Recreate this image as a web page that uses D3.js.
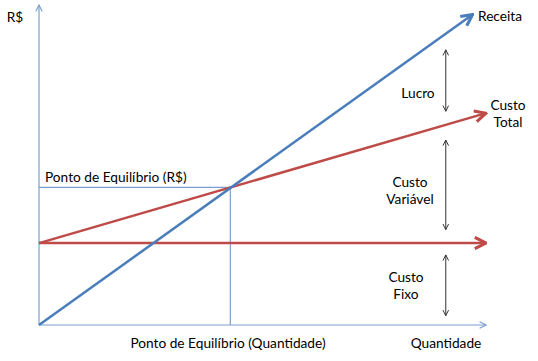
<!DOCTYPE html>
<html lang="pt">
<head>
  <meta charset="utf-8">
  <title>Ponto de Equilibrio</title>
  <script src="https://d3js.org/d3.v7.min.js"></script>
  <style>
    body { margin: 0; background: #fff; }
    text { font-family: Lato, "Open Sans", sans-serif; font-size: 13.7px; fill: #000; }
  </style>
</head>
<body>
<script>
// quantity on x, value (R$) on y, both 0..100
var receita = [[0, 0], [97, 97]];
var custoTotal = [[0, 25.6], [100, 66.2]];
var custoFixo = [[0, 25.6], [100, 25.6]];
var equilibrio = [42.8, 43];   // [quantidade, R$]

// double arrows: [x, yFrom, yTo]
var faixas = [
  [91, 86, 66.8],   // Lucro
  [91, 57.8, 29.8], // Custo Variavel
  [91, 21.9, 2.9]   // Custo Fixo
];

var width = 538, height = 361;

var x = d3.scaleLinear().domain([0, 100]).range([39, 486]);
var y = d3.scaleLinear().domain([0, 100]).range([325, 5]);

var svg = d3.select("body").append("svg")
  .attr("width", width)
  .attr("height", height);

var defs = svg.append("defs");
function marker(id, color, size) {
  defs.append("marker")
    .attr("id", id)
    .attr("viewBox", "0 0 10 10")
    .attr("refX", 9)
    .attr("refY", 5)
    .attr("markerWidth", size)
    .attr("markerHeight", size)
    .attr("orient", "auto-start-reverse")
    .attr("markerUnits", "userSpaceOnUse")
    .append("path")
    .attr("d", "M1,1 L9,5 L1,9")
    .attr("fill", "none")
    .attr("stroke", color)
    .attr("stroke-width", id.indexOf("big") >= 0 ? 2.2 : 1.4);
}
marker("ax", "#7ba0cd", 8);
marker("bigBlue", "#4a7ebb", 14);
marker("bigRed", "#be4b48", 14);
marker("gray", "#333", 7);

var line = d3.line().x(function(d) { return x(d[0]); }).y(function(d) { return y(d[1]); });

// break-even guide lines
svg.append("path")
  .attr("d", line([[0, equilibrio[1]], [equilibrio[0], equilibrio[1]], [equilibrio[0], 0]]))
  .attr("fill", "none")
  .attr("stroke", "#7ba0cd")
  .attr("stroke-width", 1.2);

// axes
svg.append("line")
  .attr("x1", x(0)).attr("y1", y(0))
  .attr("x2", x(0)).attr("y2", y(100))
  .attr("stroke", "#7ba0cd").attr("stroke-width", 1.2)
  .attr("marker-end", "url(#ax)");
svg.append("line")
  .attr("x1", x(0)).attr("y1", y(0))
  .attr("x2", x(100)).attr("y2", y(0))
  .attr("stroke", "#7ba0cd").attr("stroke-width", 1.2)
  .attr("marker-end", "url(#ax)");

// main lines
svg.append("path").attr("d", line(custoFixo))
  .attr("fill", "none").attr("stroke", "#be4b48").attr("stroke-width", 2.5)
  .attr("marker-end", "url(#bigRed)");
svg.append("path").attr("d", line(custoTotal))
  .attr("fill", "none").attr("stroke", "#be4b48").attr("stroke-width", 2.5)
  .attr("marker-end", "url(#bigRed)");
svg.append("path").attr("d", line(receita))
  .attr("fill", "none").attr("stroke", "#4a7ebb").attr("stroke-width", 2.5)
  .attr("marker-end", "url(#bigBlue)");

// double arrows
svg.selectAll(".faixa")
  .data(faixas)
  .enter()
  .append("line")
  .attr("class", "faixa")
  .attr("x1", function(d) { return x(d[0]); })
  .attr("x2", function(d) { return x(d[0]); })
  .attr("y1", function(d) { return y(d[1]); })
  .attr("y2", function(d) { return y(d[2]); })
  .attr("stroke", "#333")
  .attr("stroke-width", 1)
  .attr("marker-start", "url(#gray)")
  .attr("marker-end", "url(#gray)");

// labels
var labels = [
  ["R$", 15, 17, "middle"],
  ["Receita", 478, 16, "start"],
  ["Lucro", 418, 93, "middle"],
  ["Custo", 508, 105, "middle"],
  ["Total", 508, 122, "middle"],
  ["Custo", 410, 182, "middle"],
  ["Variável", 410, 199, "middle"],
  ["Custo", 406, 277, "middle"],
  ["Fixo", 406, 294, "middle"],
  ["Quantidade", 446, 343, "middle"],
  ["Ponto de Equilíbrio (R$)", 45, 177, "start"],
  ["Ponto de Equilíbrio (Quantidade)", 228, 343, "middle"]
];
svg.selectAll(".lbl")
  .data(labels)
  .enter()
  .append("text")
  .attr("class", "lbl")
  .attr("x", function(d) { return d[1]; })
  .attr("y", function(d) { return d[2]; })
  .attr("dy", "0.36em")
  .attr("text-anchor", function(d) { return d[3]; })
  .text(function(d) { return d[0]; });
</script>
</body>
</html>
